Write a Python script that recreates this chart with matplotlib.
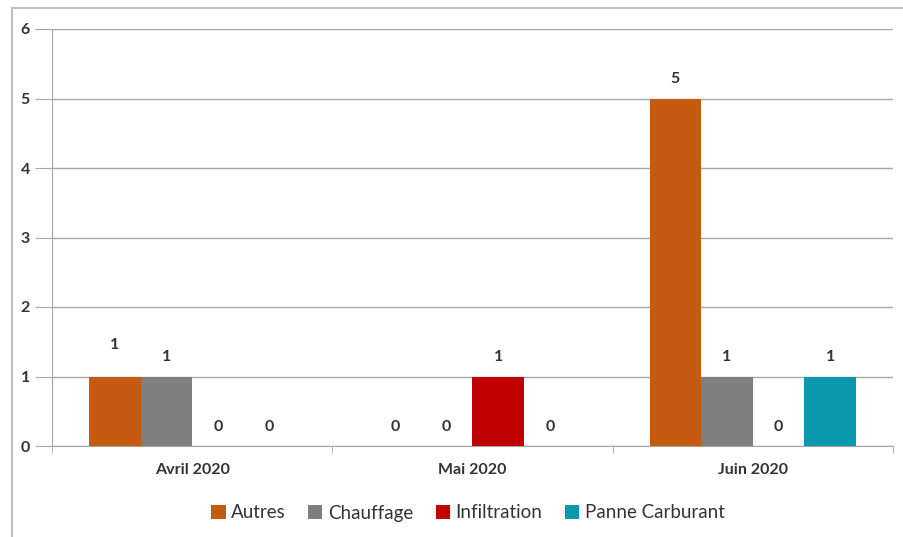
import matplotlib
matplotlib.use("Agg")
import matplotlib.pyplot as plt
import numpy as np
from matplotlib.patches import Rectangle

months = ["Avril 2020", "Mai 2020", "Juin 2020"]
series = ["Autres", "Chauffage", "Infiltration", "Panne Carburant"]
autres = [1, 0, 5]
chauffage = [1, 0, 1]
infiltration = [0, 1, 0]
panne = [0, 0, 1]
values = [autres, chauffage, infiltration, panne]
colors = ["#C55A11", "#7F7F7F", "#C00000", "#0A98AF"]
yticks = [0, 1, 2, 3, 4, 5, 6]

plt.rcParams['font.family'] = ['Lato', 'DejaVu Sans']

fig = plt.figure(figsize=(9.04, 5.37), dpi=100)
ax = fig.add_axes([52/904, 1-446/537, (893-52)/904, (446-29)/537])

# outer frame
fig.patches.append(Rectangle((12/904, -0.2), 1.2, 0.2 + 1 - 8/537, transform=fig.transFigure,
                             fill=False, edgecolor="#BFBFBF", linewidth=1.5, clip_on=False))

x = np.arange(len(months))
w = 0.184
offsets = (np.arange(4) - 1.5) * w
for i, (s, vals, c) in enumerate(zip(series, values, colors)):
    bars = ax.bar(x + offsets[i], vals, width=w, color=c, label=s, zorder=3)
    for j, (b, v) in enumerate(zip(bars, vals)):
        extra = 0.17 if (i == 0 and j == 0) else 0.0
        ax.text(b.get_x() + b.get_width()/2, v + 0.28 + extra, str(v), ha="center", va="center",
                fontsize=11.5, fontweight="bold", color="#333333")

ax.set_xlim(-0.5, 2.5)
ax.set_ylim(0, 6)
ax.set_yticks(yticks)
ax.set_yticklabels([str(t) for t in yticks], fontsize=11.5, fontweight="bold", color="#333333")
ax.yaxis.grid(True, color="#A6A6A6", linewidth=1, zorder=0)
ax.set_xticks(x)
ax.set_xticklabels(months, fontsize=11.5, fontweight="bold", color="#333333")
ax.set_xticks([-0.5, 0.5, 1.5, 2.5], minor=True)
ax.tick_params(axis="x", which="major", length=0, pad=12)
ax.tick_params(axis="x", which="minor", length=5, color="#A6A6A6", direction="out")
ax.tick_params(axis="y", length=12, color="#A6A6A6", pad=4)
for sp in ["top", "right"]:
    ax.spines[sp].set_visible(False)
ax.spines["left"].set_color("#A6A6A6")
ax.spines["bottom"].set_color("#A6A6A6")

leg = fig.legend(loc="center", bbox_to_anchor=(468/904, 1-513/537), ncol=4, frameon=False,
                 fontsize=13.5, handlelength=0.75, handleheight=0.75, handletextpad=0.3,
                 columnspacing=1.2)
for t in leg.get_texts():
    t.set_color("#333333")

fig.savefig("out.png", dpi=100)
